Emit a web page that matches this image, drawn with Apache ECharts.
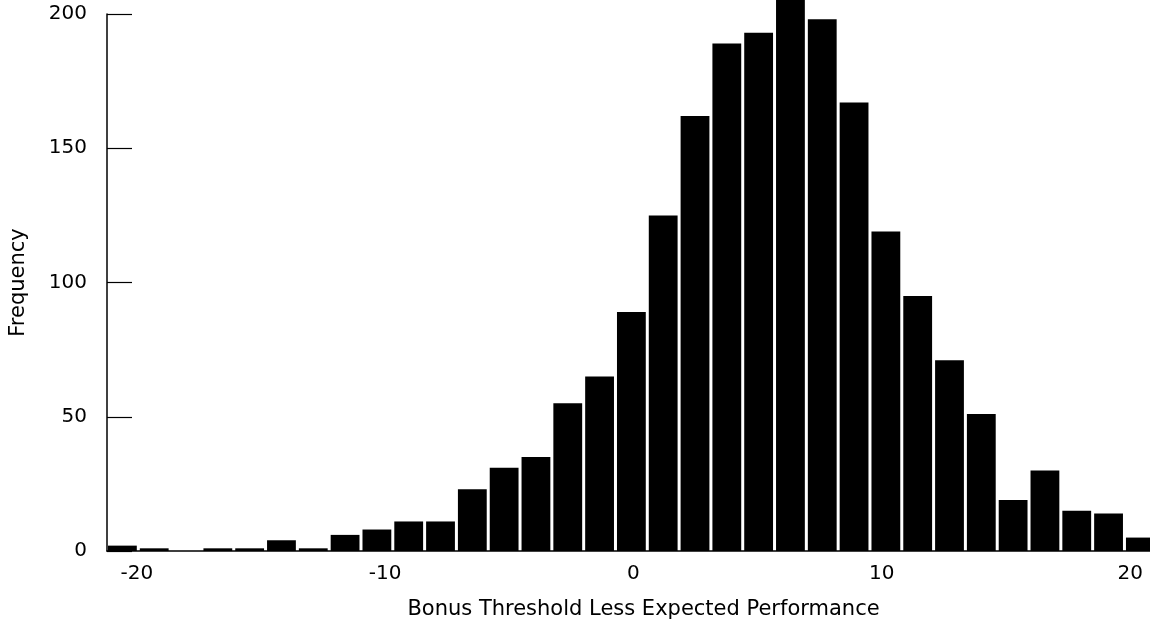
<!DOCTYPE html>
<html>
<head>
<meta charset="utf-8">
<script src="https://cdn.jsdelivr.net/npm/echarts@6/dist/echarts.min.js"></script>
<style>
  html, body { margin: 0; padding: 0; background: #fff; }
  #chart { width: 1150px; height: 628px; }
</style>
</head>
<body>
<div id="chart"></div>
<script>
// histogram bins: first left edge and bin width (x units)
var binStart = -21.16;
var binWidth = 1.281;
// frequency in each bin, left to right
var counts = [2, 1, 0, 1, 1, 4, 1, 6, 8, 11, 11, 23, 31, 35, 55, 65, 89, 125,
              162, 189, 193, 206, 198, 167, 119, 95, 71, 51, 19, 30, 15, 14, 5];
var xTicks = [-20, -10, 0, 10, 20];
var yTicks = [0, 50, 100, 150, 200];

var bins = counts.map(function (c, i) {
    var lo = binStart + i * binWidth;
    return [lo, lo + binWidth, c];
});

var chart = echarts.init(document.getElementById('chart'));
var font = 'DejaVu Sans';

chart.setOption({
    backgroundColor: '#fff',
    animation: false,
    grid: { left: 104, right: 0, top: 14, bottom: 77 },
    xAxis: {
        type: 'value',
        min: -21.2,
        max: 20.8,
        interval: 10,
        name: 'Bonus Threshold Less Expected Performance',
        nameLocation: 'middle',
        nameGap: 48,
        nameTextStyle: { color: '#000', fontFamily: font, fontSize: 21, padding: [0, 0, 0, 30] },
        axisLine: { show: true, onZero: false, lineStyle: { color: '#000', width: 1.5 } },
        axisTick: { show: false },
        splitLine: { show: false },
        axisLabel: {
            color: '#000', fontFamily: font, fontSize: 20, margin: 13,
            customValues: xTicks
        }
    },
    yAxis: {
        type: 'value',
        min: 0,
        max: 200,
        interval: 50,
        name: 'Frequency',
        nameLocation: 'middle',
        nameGap: 78,
        nameTextStyle: { color: '#000', fontFamily: font, fontSize: 21 },
        axisLine: { show: true, onZero: false, lineStyle: { color: '#000', width: 1.5 } },
        axisTick: { show: true, inside: true, length: 25, lineStyle: { color: '#000', width: 1.2 } },
        splitLine: { show: false },
        axisLabel: {
            color: '#000', fontFamily: font, fontSize: 20, margin: 20,
            customValues: yTicks
        }
    },
    series: [{
        type: 'custom',
        data: bins,
        encode: { x: [0, 1], y: 2 },
        renderItem: function (params, api) {
            var top = api.coord([api.value(0), api.value(2)]);
            var bottom = api.coord([api.value(1), 0]);
            return {
                type: 'rect',
                shape: {
                    x: top[0],
                    y: top[1],
                    width: bottom[0] - top[0] - 3,
                    height: bottom[1] - top[1]
                },
                style: { fill: '#000' }
            };
        }
    }]
});
</script>
</body>
</html>
